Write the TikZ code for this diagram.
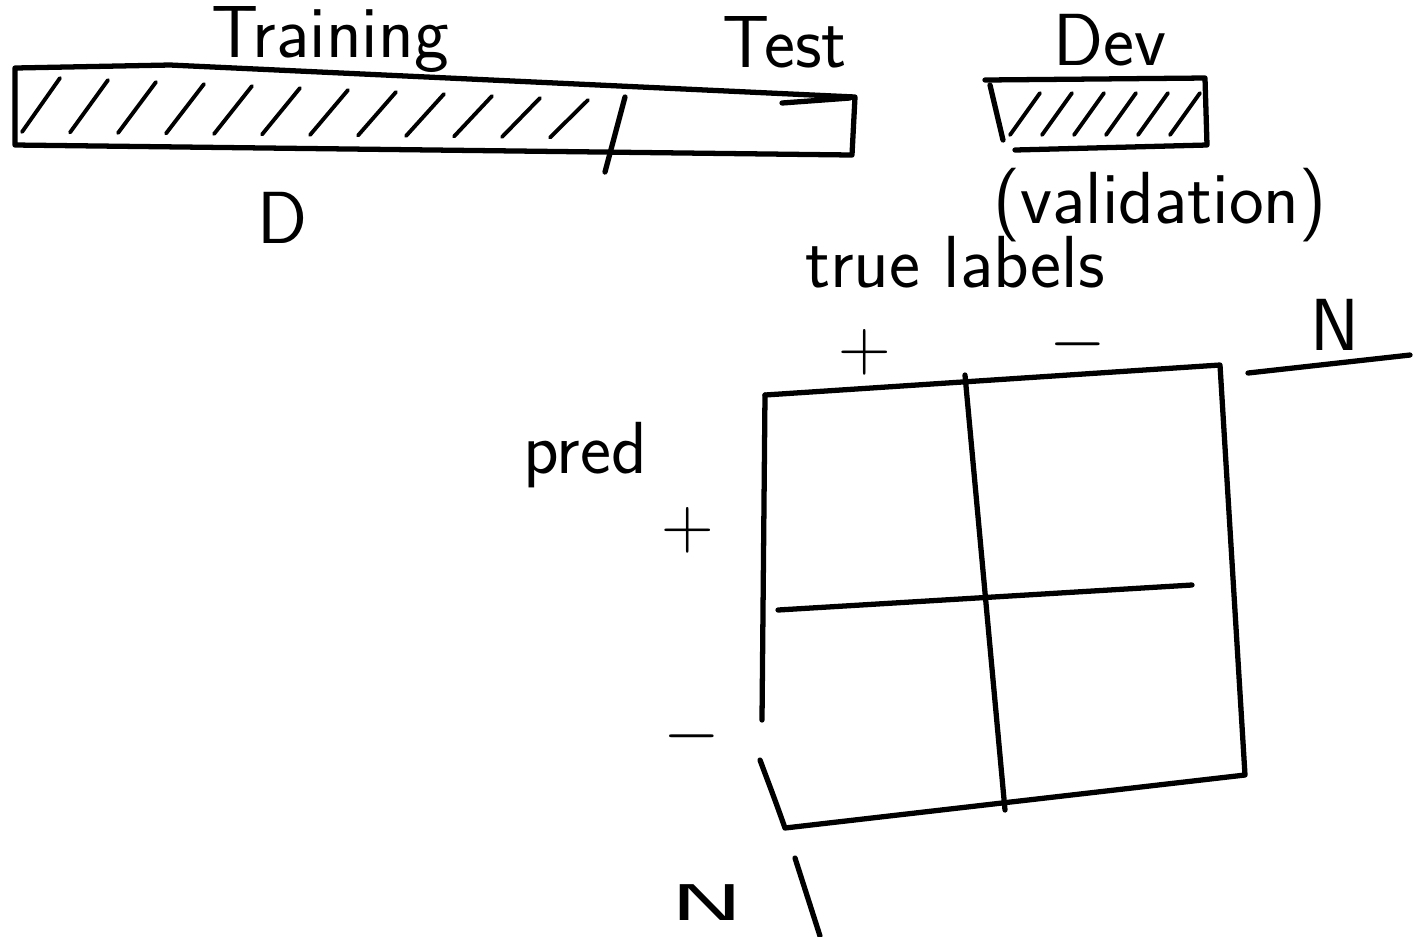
\documentclass[tikz,border=0pt]{standalone}
\usepackage{tikz}
\usetikzlibrary{positioning}
\definecolor{Ink}{HTML}{000000}

\begin{document}
\begin{tikzpicture}[
  x=0.1mm,y=-0.1mm,
  pen/.style={Ink,line width=1.5pt,line cap=round,line join=round},
  hatch/.style={Ink,line width=1.1pt,line cap=round},
  hand/.style={font=\sffamily\fontsize{21}{25}\selectfont,color=Ink,inner sep=0pt}
]
\useasboundingbox (0,0) rectangle (1418,936);

% data bar
\draw[pen] (15,68) -- (170,65) -- (855,97) -- (852,155) -- (600,152) -- (15,145) -- cycle;
\draw[pen] (625,97) -- (605,172);
\draw[pen] (782,103) -- (850,98);
\foreach \i in {0,...,11}
  \draw[hatch] ({22+48*\i},{132+\i/2}) -- ({60+48*\i},{78+2*\i});

\node[hand] (train) at (330,40) {Training};
\node[hand] (test) at (785,42) {Test};
\node[hand] (data) at (283,218) {D};

% dev bar
\draw[pen] (985,80) -- (1205,78) -- (1207,145) -- (1015,150);
\draw[pen] (990,85) -- (1003,140);
\foreach \i in {0,...,5}
  \draw[hatch] ({1010+32*\i},135) -- ({1040+32*\i},93);

\node[hand] (dev) at (1110,40) {Dev};
\node[hand] (valid) at (1160,205) {(validation)};

% confusion matrix
\draw[pen] (765,395) -- (1220,365) -- (1245,775) -- (785,828) .. controls (775,800) .. (760,760);
\draw[pen] (765,395) -- (762,720);
\draw[pen] (965,375) -- (1005,810);
\draw[pen] (778,610) -- (1192,585);

\node[hand] (truelab) at (955,262) {true labels};
\node[hand] (tplus) at (865,352) {$+$};
\node[hand] (tminus) at (1078,362) {$\smash{-}$};
\node[hand] (topN) at (1335,325) {N};
\coordinate (topL) at (1248,373);
\coordinate (topR) at (1410,355);
\draw[pen] (topL) -- (topR);

\node[hand] (pred) at (585,455) {pred};
\node[hand] (pplus) at (688,530) {$+$};
\node[hand] (pminus) at (692,736) {$-$};
\node[hand,xscale=1.5,yscale=0.7] (botN) at (707,903) {N};
\coordinate (botT) at (795,858);
\coordinate (botB) at (820,936);
\draw[pen] (botT) -- (botB);
\end{tikzpicture}
\end{document}
